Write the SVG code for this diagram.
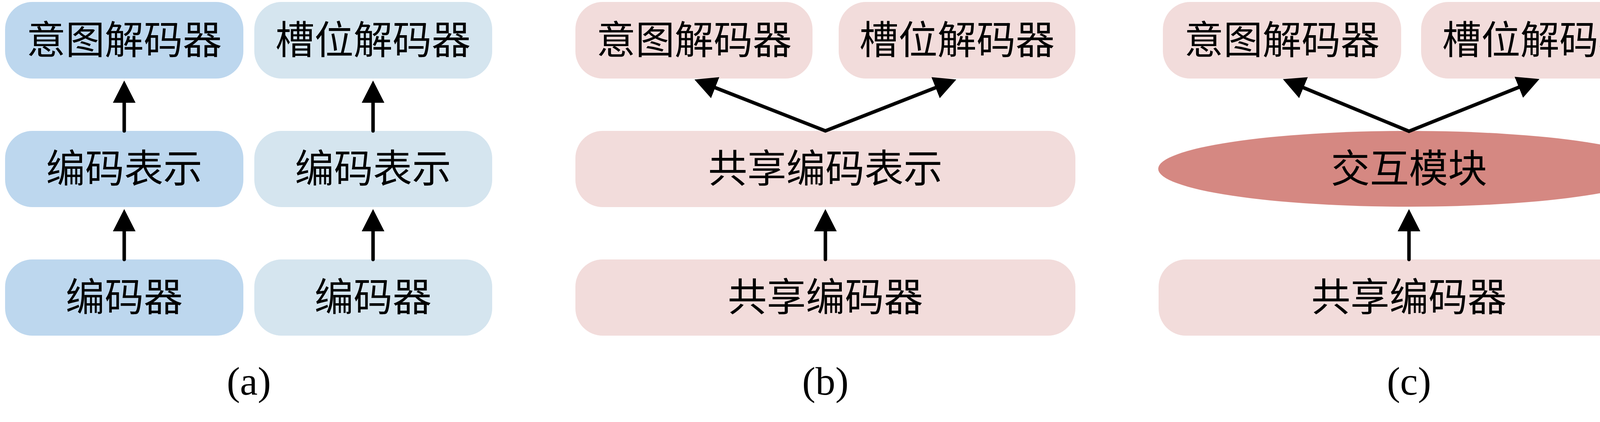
<svg xmlns="http://www.w3.org/2000/svg" width="4260" height="1080" viewBox="0 0 4260 1080">
<style>
.blue{fill:#BDD7EE}
.lblue{fill:#D5E5EF}
.pink{fill:#F2DCDB}
.ell{fill:#D58882}
.t{font-family:"Liberation Serif","Noto Sans CJK SC",serif;font-size:100px;text-anchor:middle;fill:#000}
.cap{font-family:"Liberation Serif","Noto Sans CJK SC",serif;font-size:102px;text-anchor:middle;fill:#000}
.c{fill:none;stroke:#000;stroke-width:9;stroke-linecap:round;stroke-linejoin:miter;marker-end:url(#ah)}
.v{fill:none;stroke:#000;stroke-width:9;stroke-linecap:butt;stroke-linejoin:miter;stroke-miterlimit:10;marker-start:url(#ah);marker-end:url(#ah)}
</style>
<defs>
<marker id="ah" markerUnits="userSpaceOnUse" viewBox="0 0 58 58" markerWidth="58" markerHeight="58" refX="1" refY="29" orient="auto-start-reverse">
<path d="M0,0 L57,29 L0,58 Z" fill="#000"/>
</marker>
</defs>
<rect width="4260" height="1080" fill="#fff"/>
<!-- (a) -->
<g id="a-intent-decoder"><rect class="blue" x="13" y="5" width="610" height="196" rx="70"/><text class="t" x="318" y="138">意图解码器</text></g>
<g id="a-slot-decoder"><rect class="lblue" x="651" y="5" width="609" height="196" rx="70"/><text class="t" x="955" y="138">槽位解码器</text></g>
<g id="a-enc-rep-1"><rect class="blue" x="13" y="335" width="610" height="195" rx="70"/><text class="t" x="318" y="467">编码表示</text></g>
<g id="a-enc-rep-2"><rect class="lblue" x="651" y="335" width="609" height="195" rx="70"/><text class="t" x="955" y="467">编码表示</text></g>
<g id="a-encoder-1"><rect class="blue" x="13" y="664" width="610" height="195" rx="70"/><text class="t" x="318" y="796">编码器</text></g>
<g id="a-encoder-2"><rect class="lblue" x="651" y="664" width="609" height="195" rx="70"/><text class="t" x="955" y="796">编码器</text></g>
<g id="a-caption"><text class="cap" x="637" y="1010">(a)</text></g>
<!-- (b) -->
<g id="b-intent-decoder"><rect class="pink" x="1473" y="5" width="607" height="196" rx="70"/><text class="t" x="1777" y="138">意图解码器</text></g>
<g id="b-slot-decoder"><rect class="pink" x="2147" y="5" width="606" height="196" rx="70"/><text class="t" x="2450" y="138">槽位解码器</text></g>
<g id="b-shared-rep"><rect class="pink" x="1473" y="335" width="1280" height="195" rx="70"/><text class="t" x="2113" y="467">共享编码表示</text></g>
<g id="b-shared-encoder"><rect class="pink" x="1473" y="664" width="1280" height="195" rx="70"/><text class="t" x="2113" y="796">共享编码器</text></g>
<g id="b-caption"><text class="cap" x="2113" y="1010">(b)</text></g>
<!-- (c) -->
<g id="c-intent-decoder"><rect class="pink" x="2977" y="5" width="610" height="196" rx="70"/><text class="t" x="3282" y="138">意图解码器</text></g>
<g id="c-slot-decoder"><rect class="pink" x="3638" y="5" width="609" height="196" rx="70"/><text class="t" x="3942" y="138">槽位解码器</text></g>
<g id="c-interaction"><ellipse class="ell" cx="3606" cy="432" rx="641" ry="97"/><text class="t" x="3607" y="467">交互模块</text></g>
<g id="c-shared-encoder"><rect class="pink" x="2966" y="664" width="1281" height="195" rx="70"/><text class="t" x="3607" y="796">共享编码器</text></g>
<g id="c-caption"><text class="cap" x="3607" y="1010">(c)</text></g>
<!-- connectors -->
<g id="connectors">
<path class="c" d="M318,335 L318,262"/>
<path class="c" d="M318,664 L318,591"/>
<path class="c" d="M955,335 L955,262"/>
<path class="c" d="M955,664 L955,591"/>
<path class="c" d="M2113,664 L2113,591"/>
<path class="v" d="M1830,224 L2113,335 L2396,224"/>
<path class="c" d="M3607,664 L3607,591"/>
<path class="v" d="M3336,224 L3607,336 L3889,223"/>
</g>
</svg>
